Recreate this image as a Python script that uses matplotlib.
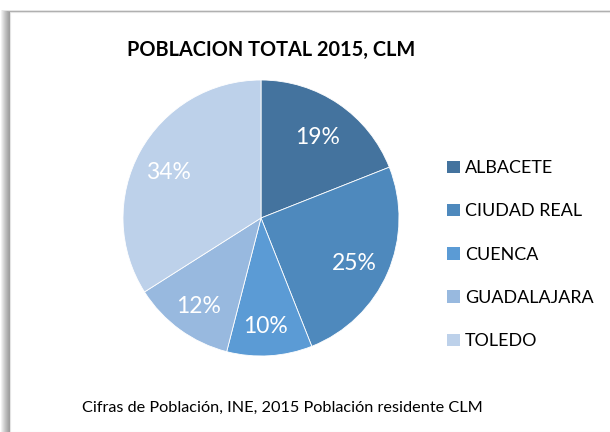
import matplotlib as mpl
mpl.use('Agg')
import matplotlib.pyplot as plt
from matplotlib.patches import Rectangle, Patch

plt.rcParams['font.family'] = ['Lato', 'DejaVu Sans']

# Data
provincias = ['ALBACETE', 'CIUDAD REAL', 'CUENCA', 'GUADALAJARA', 'TOLEDO']
porcentajes = [19, 25, 10, 12, 34]
colores = ['#44739E', '#4E89BD', '#5B9BD5', '#98B9DF', '#BDD1EA']
titulo = 'POBLACION TOTAL 2015, CLM'
fuente = 'Cifras de Población, INE, 2015 Población residente CLM'

W, H = 610, 432
fig = plt.figure(figsize=(W / 100, H / 100), dpi=100)

# chart frame with a soft shadow on the left
for k in range(10):
    fig.patches.append(Rectangle(((10 - k) / W, 0), 1, (H - 12 + k * 0.2) / H,
                                 transform=fig.transFigure, facecolor='#000000',
                                 alpha=0.05, edgecolor='none', zorder=-3))
fig.patches.append(Rectangle((10 / W, 0), 1, (H - 12) / H,
                             transform=fig.transFigure, facecolor='white',
                             edgecolor='#E4E4E4', lw=0.8, zorder=-2))

# pie
cx, cy, r = 261, 218, 138
ax = fig.add_axes([(cx - r) / W, 1 - (cy + r) / H, 2 * r / W, 2 * r / H])
wedges, texts, autotexts = ax.pie(
    porcentajes, colors=colores, startangle=90, counterclock=False,
    autopct='%d%%', pctdistance=0.75,
    wedgeprops=dict(edgecolor='white', linewidth=0.6),
    textprops=dict(color='white', fontsize=16.5))
# nudge the percentages down a little, like the original
for t in autotexts:
    x, y = t.get_position()
    t.set_position((x - 0.015, y - 0.035))
ax.set_xlim(-1, 1)
ax.set_ylim(-1, 1)
ax.set_aspect('equal')

fig.text(271 / W, 1 - 50 / H, titulo, ha='center', va='center',
         fontsize=14.3, fontweight='bold', color='black')

handles = [Patch(facecolor=c, edgecolor='none') for c in colores]
fig.legend(handles, provincias, loc='upper left',
           bbox_to_anchor=(431 / W, 1 - 144 / H), frameon=False,
           fontsize=12.9, handlelength=0.7, handleheight=0.7,
           handletextpad=0.3, labelspacing=1.52)

fig.text(282 / W, 1 - 408 / H, fuente, ha='center', va='center',
         fontsize=11.7, color='black')

fig.savefig('out.png', dpi=100)
